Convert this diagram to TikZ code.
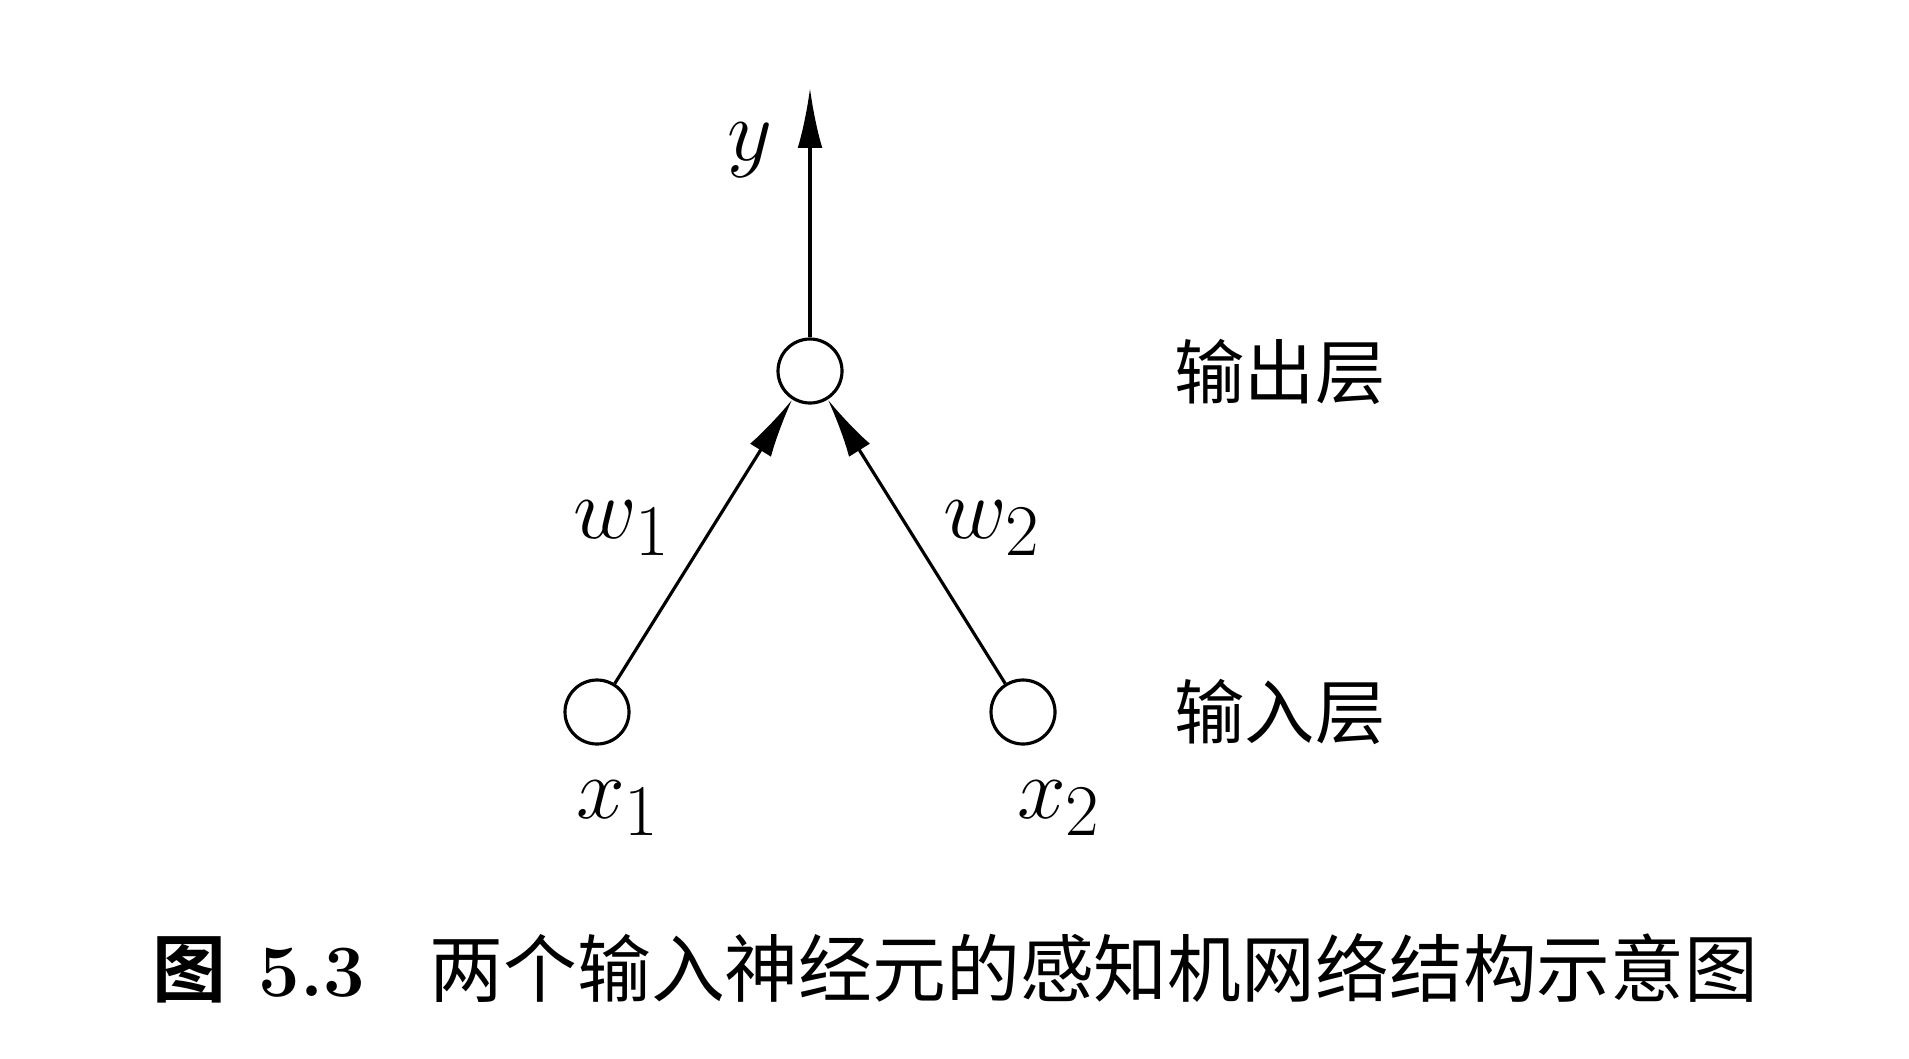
\documentclass[tikz,border=0pt]{standalone}
\usepackage{amsmath}
\usepackage{amssymb}
\usepackage{fontspec}
\newfontfamily\cjk{Noto Sans CJK SC}
\newfontfamily\cjkbf{Noto Sans CJK SC Bold}
\usetikzlibrary{arrows.meta}

\begin{document}
\begin{tikzpicture}[font=\fontsize{28}{34}\selectfont,
    neuron/.style={circle,draw,line width=0.9pt,minimum size=0.64cm,inner sep=0pt},
    link/.style={line width=0.9pt,-{Latex[length=17pt,width=7pt]}},
    layer/.style={font=\fontsize{20}{24}\selectfont\cjk}]
  \useasboundingbox (0,0) rectangle (19.09,10.58);

  \node[neuron] (out) at (8.10,6.87) {};
  \node[neuron] (in1) at (5.97,3.46) {};
  \node[neuron] (in2) at (10.23,3.46) {};
  \coordinate (top) at (8.10,9.70);

  \draw[link] (out) -- (top);
  \node (ylab) at (7.50,9.08) {$y$};

  \draw[link] (in1) -- (out);
  \draw[link] (in2) -- (out);
  \node (w1) at (6.22,5.30) {$w_1$};
  \node (w2) at (9.92,5.30) {$w_2$};

  \node (x1) at (6.18,2.50) {$x_1$};
  \node (x2) at (10.59,2.50) {$x_2$};

  \node[layer] (outlayer) at (12.80,6.86) {输出层};
  \node[layer] (inlayer) at (12.80,3.46) {输入层};

  \node[anchor=west,inner sep=0pt,font=\fontsize{21}{25}\selectfont] (caption) at (1.52,0.90)
    {{\cjkbf 图}\hspace{0.32cm}\textbf{5.3}\hspace{0.65cm}{\cjk 两个输入神经元的感知机网络结构示意图}};
\end{tikzpicture}
\end{document}
